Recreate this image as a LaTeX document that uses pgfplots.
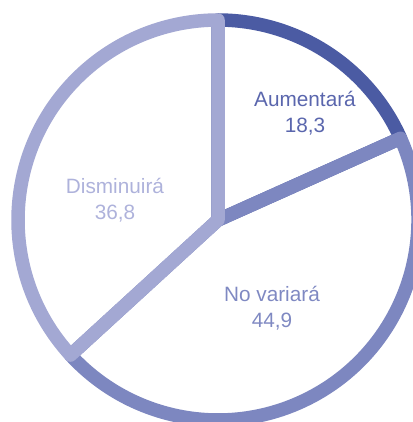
\documentclass[border=0pt]{standalone}
\usepackage{fontspec}
\setmainfont{Liberation Sans}
\usepackage{pgfplots}
\usepackage{pgfplotstable}
\pgfplotsset{compat=1.18}

\definecolor{cAum}{HTML}{4B5BA3}
\definecolor{cNo}{HTML}{7D87C0}
\definecolor{cDis}{HTML}{A3A8D3}
\definecolor{tAum}{HTML}{5A66AD}
\definecolor{tNo}{HTML}{7F89C2}
\definecolor{tDis}{HTML}{AEB2DB}

\tikzset{
  pie/.style={line width=0.135in, line join=round},
  lbl/.style={align=center, font=\fontsize{15}{19}\selectfont},
}

% share of answers, in percent
\pgfplotstableread{
label value
Aumentara 18.3
Novariara 44.9
Disminuira 36.8
}\piedata

\newcommand\pct[1]{\pgfmathprintnumber[use comma,fixed,precision=1,assume math mode=true]{#1}}

\begin{document}
\begin{tikzpicture}
\pgfplotstablegetelem{0}{value}\of\piedata \pgfmathsetmacro\vA{\pgfplotsretval}
\pgfplotstablegetelem{1}{value}\of\piedata \pgfmathsetmacro\vB{\pgfplotsretval}
\pgfplotstablegetelem{2}{value}\of\piedata \pgfmathsetmacro\vC{\pgfplotsretval}
\pgfmathsetmacro\aA{90}
\pgfmathsetmacro\aB{\aA-3.6*\vA}
\pgfmathsetmacro\aC{\aB-3.6*\vB}
\pgfmathsetmacro\aD{\aC-3.6*\vC}
\begin{axis}[
    hide axis,
    scale only axis,
    width=4.13in, height=4.22in,
    xmin=0, xmax=413, ymin=0, ymax=422,
    clip=true,
  ]
  \draw[cAum, pie] (axis cs:218,202) -- ++(\aA:2in)
     arc[start angle=\aA, end angle=\aB, radius=2in] -- cycle;
  \draw[cNo, pie] (axis cs:218,202) -- ++(\aB:2in)
     arc[start angle=\aB, end angle=\aC, radius=2in] -- cycle;
  \draw[cDis, pie] (axis cs:218,202) -- ++(\aC:2in)
     arc[start angle=\aC, end angle=\aD, radius=2in] -- cycle;

  \node[lbl, tAum] at (axis cs:305,309) {Aumentará\\\pct{\vA}};
  \node[lbl, tNo] at (axis cs:272,114) {No variará\\\pct{\vB}};
  \node[lbl, tDis] at (axis cs:115,222) {Disminuirá\\\pct{\vC}};
\end{axis}
\pgfresetboundingbox
\path (current axis.south west) rectangle (current axis.north east);
\end{tikzpicture}
\end{document}
